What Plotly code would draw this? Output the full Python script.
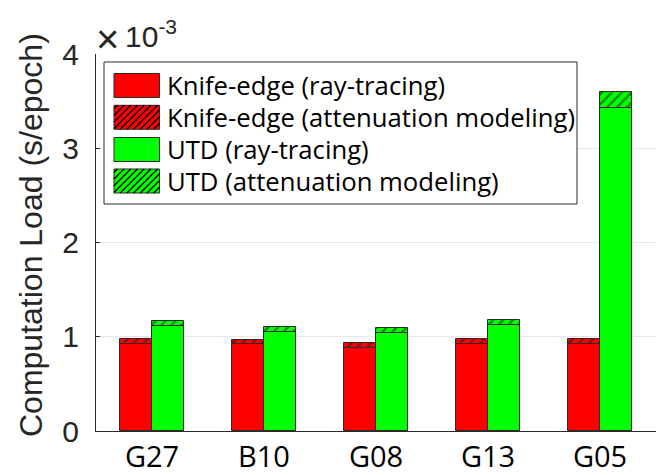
import plotly.graph_objects as go

# ---- data (values in units of 1e-3 s/epoch) ----
categories = ["G27", "B10", "G08", "G13", "G05"]
knife_ray = [0.926, 0.919, 0.883, 0.926, 0.926]
knife_att = [0.046, 0.049, 0.050, 0.053, 0.053]
utd_ray = [1.113, 1.050, 1.036, 1.121, 3.428]
utd_att = [0.057, 0.056, 0.056, 0.056, 0.170]
y_ticks = [0, 1, 2, 3, 4]
legend_labels = ["Knife-edge (ray-tracing)", "Knife-edge (attenuation modeling)",
                 "UTD (ray-tracing)", "UTD (attenuation modeling)"]

W, H = 657, 475
L, Rx, T, By = 96, 656, 54, 431
RED, GREEN = "#ff0000", "#00ff00"
EDGE = "#2b2b2b"
BW = 0.286


def px(x):
    return (x - L) / (Rx - L)


def py(y):
    return (By - y) / (By - T)


fig = go.Figure()
pat = dict(shape="/", fgcolor="black", size=7, solidity=0.3)
fig.add_bar(x=categories, y=knife_ray, offset=-BW, width=BW,
            marker=dict(color=RED, line=dict(color=EDGE, width=1)), showlegend=False)
fig.add_bar(x=categories, y=knife_att, base=knife_ray, offset=-BW, width=BW,
            marker=dict(color=RED, pattern=dict(pat, bgcolor=RED), line=dict(color=EDGE, width=1)),
            showlegend=False)
fig.add_bar(x=categories, y=utd_ray, offset=0, width=BW,
            marker=dict(color=GREEN, line=dict(color=EDGE, width=1)), showlegend=False)
fig.add_bar(x=categories, y=utd_att, base=utd_ray, offset=0, width=BW,
            marker=dict(color=GREEN, pattern=dict(pat, bgcolor=GREEN), line=dict(color=EDGE, width=1)),
            showlegend=False)

shapes = []
annotations = []

# legend box
shapes.append(dict(type="rect", xref="paper", yref="paper", x0=px(104), x1=px(577),
                   y0=py(204), y1=py(62), fillcolor="white", line=dict(color=EDGE, width=1)))


def hatch_path(x0, y0, x1, y1, step=6.7):
    segs = []
    c = x0 + y0 + step / 2
    while c < x1 + y1:
        xa = max(x0, c - y1)
        xb = min(x1, c - y0)
        if xb > xa:
            segs.append(f"M{px(xa):.5f},{py(c - xa):.5f} L{px(xb):.5f},{py(c - xb):.5f}")
        c += step
    return " ".join(segs)


row_centers = [85.5, 117.3, 149.5, 181.0]
colors = [RED, RED, GREEN, GREEN]
hatched = [False, True, False, True]
for lab, yc, col, h in zip(legend_labels, row_centers, colors, hatched):
    sx0, sx1 = 114, 159.5
    sy0, sy1 = yc - 12, yc + 12
    shapes.append(dict(type="rect", xref="paper", yref="paper", x0=px(sx0), x1=px(sx1),
                       y0=py(sy1), y1=py(sy0), fillcolor=col, line=dict(color=EDGE, width=1)))
    if h:
        shapes.append(dict(type="path", xref="paper", yref="paper",
                           path=hatch_path(sx0, sy0, sx1, sy1),
                           line=dict(color="black", width=1.3)))
    annotations.append(dict(text=lab, xref="paper", yref="paper", x=px(165), y=py(yc),
                            xanchor="left", yanchor="middle", showarrow=False,
                            font=dict(family="Open Sans", size=25.7, color="black")))

# exponent label
annotations.append(dict(text="×", xref="paper", yref="paper",
                        x=px(107.5), y=py(39), xanchor="center", yanchor="middle", showarrow=False,
                        font=dict(family="Liberation Sans", size=40, color="#262626")))
annotations.append(dict(text="10<sup>-3</sup>", xref="paper", yref="paper",
                        x=px(123), y=py(55), xanchor="left", yanchor="bottom", showarrow=False,
                        font=dict(family="Liberation Sans", size=30, color="#262626")))
# y title
annotations.append(dict(text="Computation Load (s/epoch)", xref="paper", yref="paper",
                        x=px(31), y=py(235), xanchor="center", yanchor="middle",
                        textangle=-90, showarrow=False,
                        font=dict(family="Liberation Sans", size=32, color="#262626")))

fig.update_layout(
    width=W, height=H,
    margin=dict(l=L, r=W - Rx, t=T, b=H - By, pad=0, autoexpand=False),
    plot_bgcolor="white", paper_bgcolor="white",
    barmode="overlay", bargap=0,
    shapes=shapes, annotations=annotations,
    xaxis=dict(type="category", range=[-0.5, 4.5], showline=True, linecolor=EDGE, linewidth=1,
               ticks="", showgrid=False, zeroline=False, automargin=False,
               tickfont=dict(family="Open Sans", size=29, color="black")),
    yaxis=dict(range=[0, 4], tickvals=y_ticks, ticktext=[str(v) for v in y_ticks],
               showline=True, linecolor=EDGE, linewidth=1, ticks="inside", ticklen=4,
               tickcolor=EDGE, showgrid=True, gridcolor="#e8e8e8", gridwidth=1, zeroline=False,
               automargin=False, ticklabelstandoff=10,
               tickfont=dict(family="Liberation Sans", size=30, color="#262626")),
)

fig.write_html("out.html", config={"displayModeBar": False},
               post_script="document.body.style.margin='0';")
